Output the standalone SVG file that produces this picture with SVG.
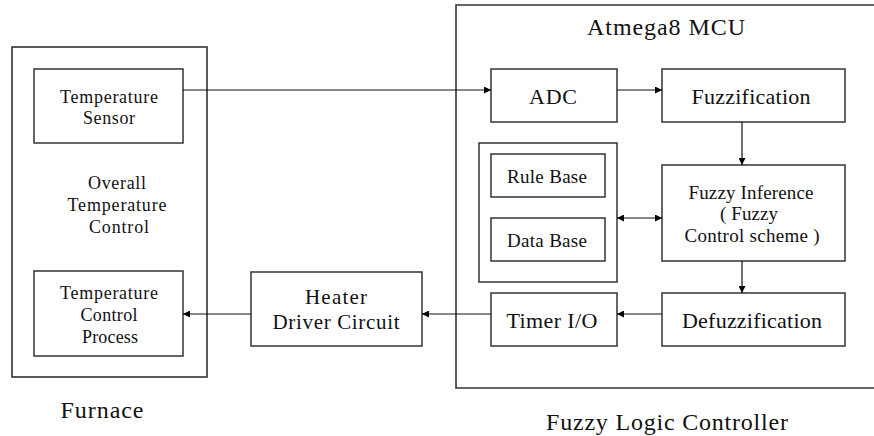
<svg xmlns="http://www.w3.org/2000/svg" width="874" height="436" viewBox="0 0 874 436" font-family="'Liberation Serif', 'Times New Roman', serif">
<defs>
<marker id="ah" viewBox="0 0 10 10" refX="10" refY="5" markerWidth="8" markerHeight="7" markerUnits="userSpaceOnUse" orient="auto-start-reverse"><path d="M0,0 L10,5 L0,10 z" fill="#000"/></marker>
</defs>
<style>
.box{fill:#fff;stroke:#333;stroke-width:1.5}
.outer{fill:none;stroke:#333;stroke-width:1.6}
.t{font-family:"Liberation Serif","Times New Roman",serif;fill:#111;text-anchor:middle;dominant-baseline:central}
.s18{font-size:18px}.s19{font-size:19px}.s21{font-size:21px}.s22{font-size:22px}.s24{font-size:24px}
.c{stroke:#111;stroke-width:1.2;fill:none;marker-end:url(#ah)}
</style>
<rect width="874" height="436" fill="#fff"/>
<g id="furnace">
<rect class="outer" x="12" y="47" width="195" height="330"/>
<text class="t s18" x="117" y="183" textLength="58" lengthAdjust="spacing">Overall</text>
<text class="t s18" x="117" y="205" textLength="99" lengthAdjust="spacing">Temperature</text>
<text class="t s18" x="119" y="227" textLength="60" lengthAdjust="spacing">Control</text>
<text class="t s24" x="102" y="410" textLength="83" lengthAdjust="spacing">Furnace</text>
</g>
<g id="temp-sensor">
<rect class="box" x="34" y="69" width="149" height="74"/>
<text class="t s18" x="109" y="97" textLength="98" lengthAdjust="spacing">Temperature</text>
<text class="t s18" x="109" y="118" textLength="52" lengthAdjust="spacing">Sensor</text>
</g>
<g id="temp-control-process">
<rect class="box" x="34" y="271" width="149" height="85"/>
<text class="t s18" x="109" y="293" textLength="98" lengthAdjust="spacing">Temperature</text>
<text class="t s18" x="109" y="315" textLength="57" lengthAdjust="spacing">Control</text>
<text class="t s18" x="110" y="337" textLength="56" lengthAdjust="spacing">Process</text>
</g>
<g id="heater">
<rect class="box" x="251" y="272" width="171" height="74"/>
<text class="t s21" x="336" y="297" textLength="62" lengthAdjust="spacing">Heater</text>
<text class="t s21" x="336" y="322" textLength="127" lengthAdjust="spacing">Driver Circuit</text>
</g>
<g id="mcu">
<path class="outer" d="M874,5 H456 V388 H874"/>
<text class="t s24" x="666" y="27" textLength="158" lengthAdjust="spacing">Atmega8 MCU</text>
<text class="t s24" x="667" y="422" textLength="242" lengthAdjust="spacing">Fuzzy Logic Controller</text>
</g>
<g id="adc">
<rect class="box" x="491" y="69" width="126" height="53"/>
<text class="t s22" x="553" y="96" textLength="48" lengthAdjust="spacing">ADC</text>
</g>
<g id="fuzzification">
<rect class="box" x="662" y="69" width="183" height="53"/>
<text class="t s22" x="751" y="96" textLength="119" lengthAdjust="spacing">Fuzzification</text>
</g>
<g id="knowledge-base">
<rect class="box" x="479" y="143" width="138" height="139"/>
</g>
<g id="rule-base">
<rect class="box" x="491" y="154" width="114" height="43"/>
<text class="t s19" x="547" y="176" textLength="80" lengthAdjust="spacing">Rule Base</text>
</g>
<g id="data-base">
<rect class="box" x="491" y="218" width="114" height="43"/>
<text class="t s19" x="547" y="240" textLength="80" lengthAdjust="spacing">Data Base</text>
</g>
<g id="fuzzy-inference">
<rect class="box" x="662" y="165" width="183" height="96"/>
<text class="t s19" x="751" y="192" textLength="125" lengthAdjust="spacing">Fuzzy Inference</text>
<text class="t s19" x="749" y="213" textLength="58" lengthAdjust="spacing">( Fuzzy</text>
<text class="t s19" x="752" y="235" textLength="135" lengthAdjust="spacing">Control scheme )</text>
</g>
<g id="defuzzification">
<rect class="box" x="662" y="293" width="183" height="53"/>
<text class="t s22" x="752" y="320" textLength="140" lengthAdjust="spacing">Defuzzification</text>
</g>
<g id="timer">
<rect class="box" x="491" y="293" width="126" height="53"/>
<text class="t s22" x="552" y="320" textLength="91" lengthAdjust="spacing">Timer I/O</text>
</g>
<g id="connectors">
<path class="c" d="M183,90 H491"/>
<path class="c" d="M617,90 H662"/>
<path class="c" d="M742,122 V165"/>
<path class="c" d="M742,261 V293"/>
<path class="c" d="M662,314 H617"/>
<path class="c" d="M491,314 H422"/>
<path class="c" d="M251,314 H183"/>
<path class="c" d="M617,218 H662" marker-start="url(#ah)"/>
</g>
</svg>
